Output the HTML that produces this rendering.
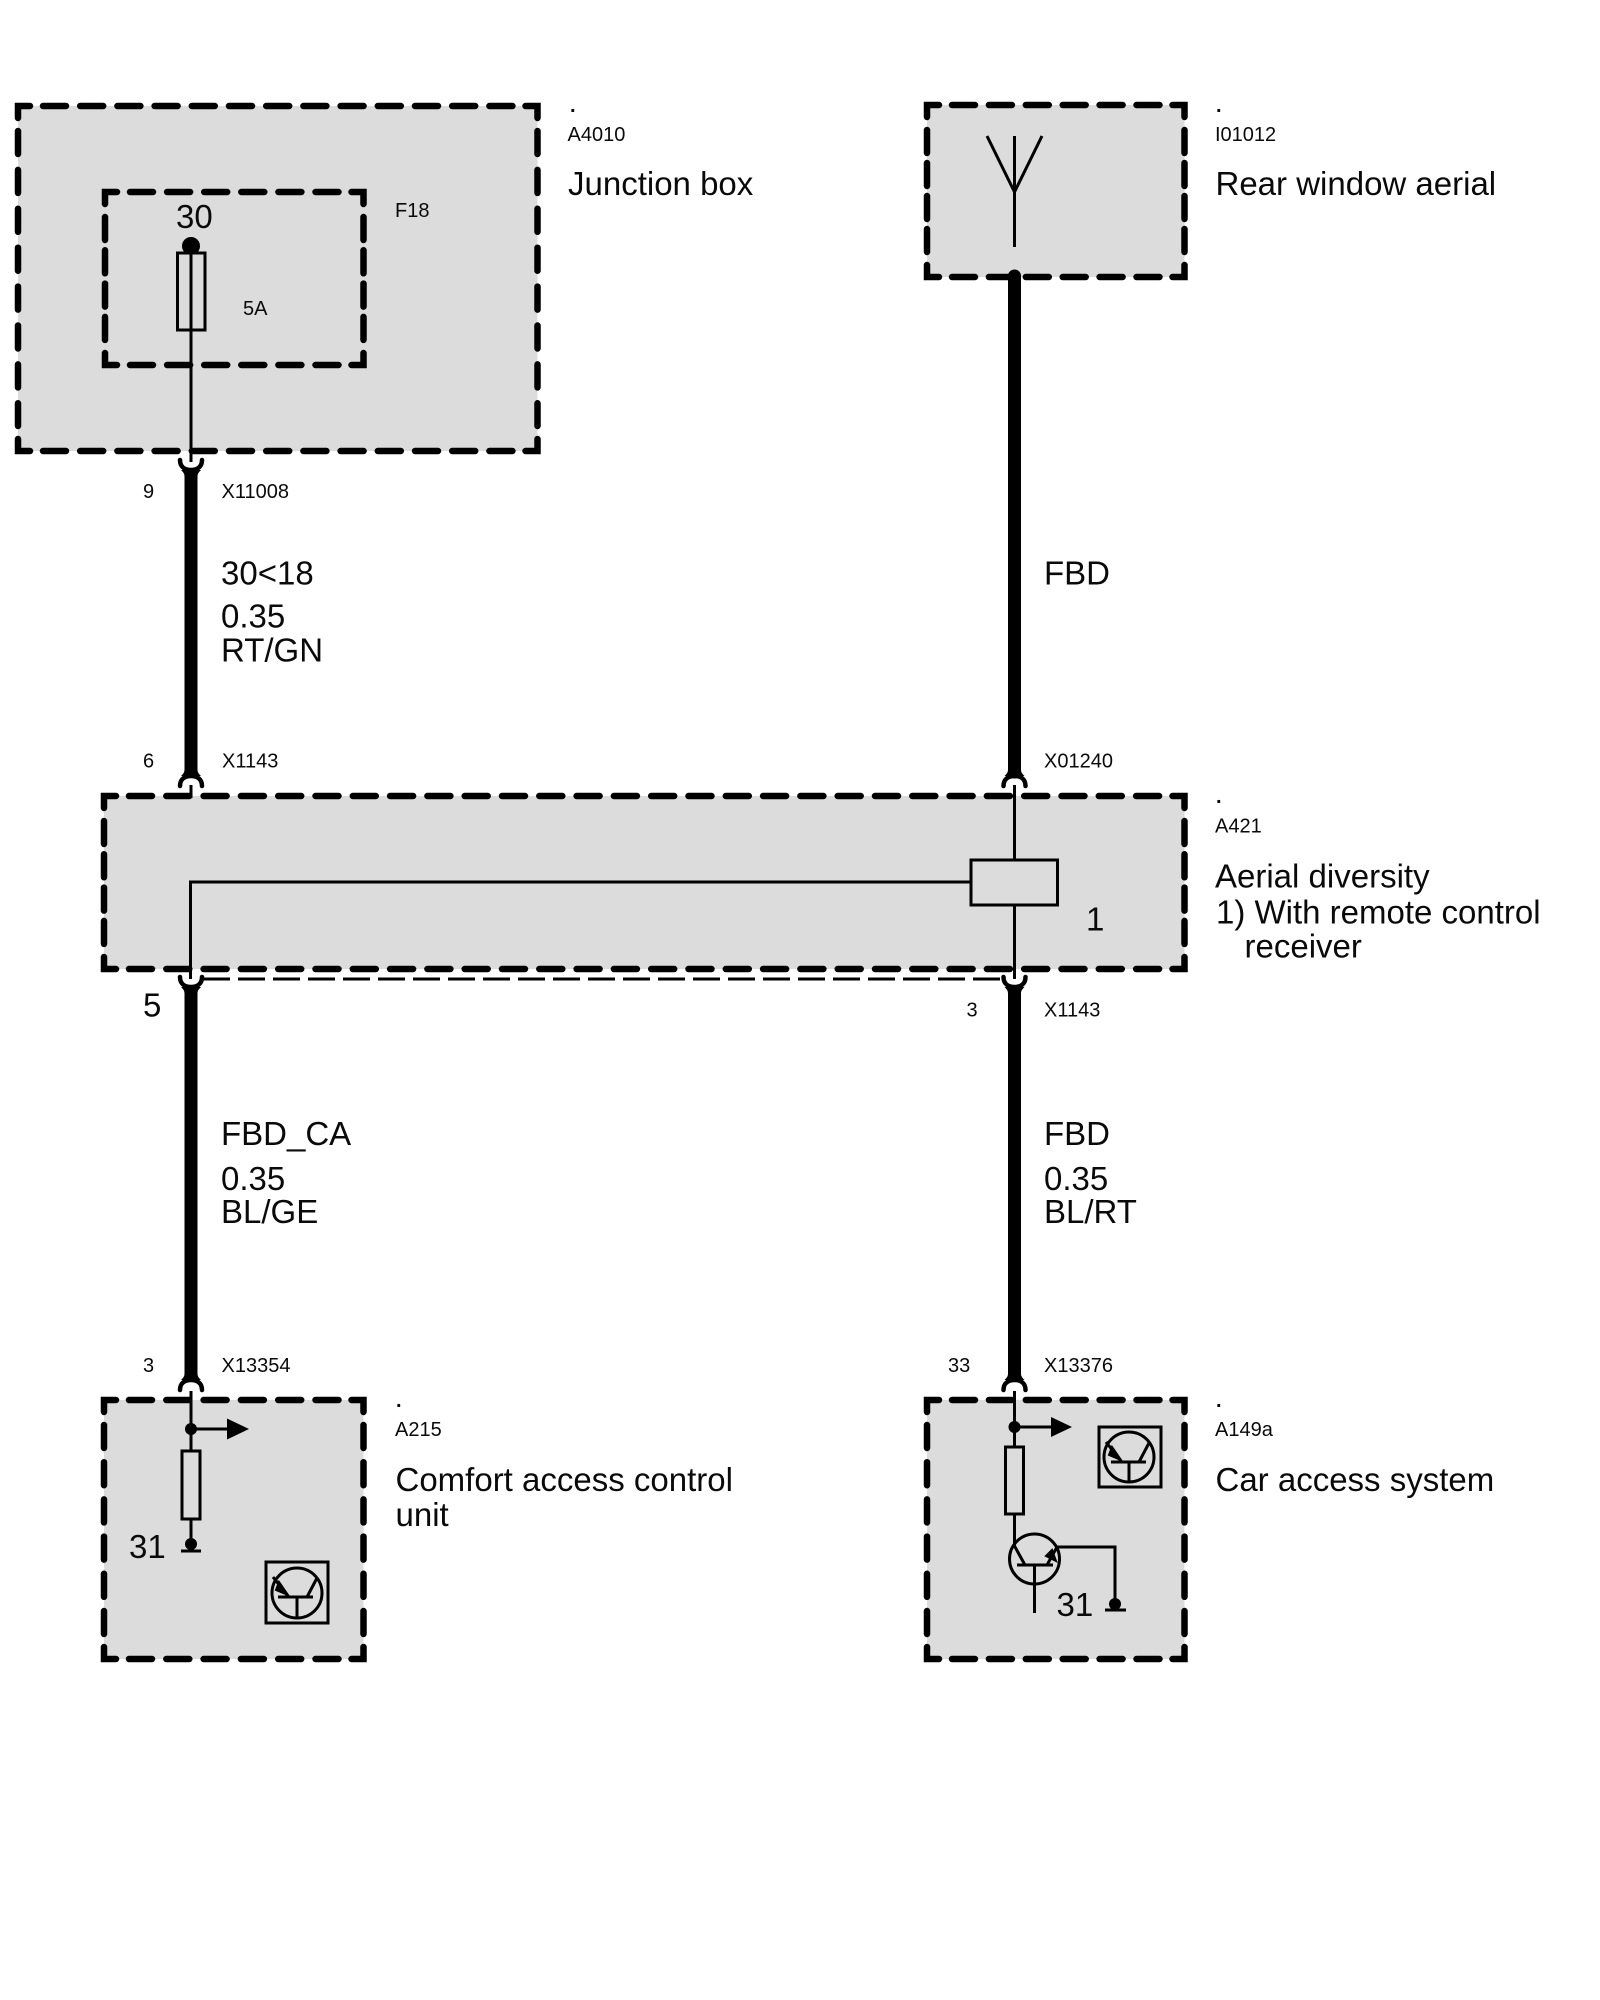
<!DOCTYPE html>
<html>
<head>
<meta charset="utf-8">
<title>Wiring diagram</title>
<style>
html,body{margin:0;padding:0;background:#fff;width:1600px;height:2000px;overflow:hidden}
svg{display:block}
text{font-family:"Liberation Sans",Arial,sans-serif;fill:#0a0a0a}
.s{font-size:20px}
.l{font-size:33px}
.p{font-size:20px;font-weight:bold}
.c{fill:none;stroke:#000;stroke-width:6.500;stroke-linecap:round;stroke-linejoin:miter}
.d{fill:none;stroke:#000;stroke-width:6.500;stroke-linecap:round}
.t{fill:none;stroke:#000;stroke-width:3}
.k{fill:none;stroke:#000;stroke-width:13}
.f{fill:none;stroke:#000;stroke-width:4.500;stroke-linecap:round}
.b{fill:#dcdcdc}
</style>
</head>
<body>
<svg width="1600" height="2000" viewBox="0 0 1600 2000" xmlns="http://www.w3.org/2000/svg">
<defs>
<g id="fk">
<path d="M-6.500 -9C-6.500 -6 -7 -5 -10 -2L10 -2C7 -5 6.500 -6 6.500 -9Z" fill="#000"/>
<path class="f" d="M-11 8C-11 1 -6 -2 0 -2C6 -2 11 1 11 8"/>
</g>
</defs>
<rect width="1600" height="2000" fill="#fff"/>

<!-- A4010 -->
<rect class="b" x="18" y="106" width="519.500" height="345"/>
<path class="c" d="M18 118V106H30M525.500 106H537.500V118M537.500 439V451H525.500M30 451H18V439"/>
<line class="d" x1="43" y1="106" x2="512.500" y2="106" stroke-dasharray="23 14.200"/>
<line class="d" x1="43" y1="451" x2="512.500" y2="451" stroke-dasharray="23 14.200"/>
<line class="d" x1="18" y1="131" x2="18" y2="426" stroke-dasharray="23 15.900"/>
<line class="d" x1="537.500" y1="131" x2="537.500" y2="426" stroke-dasharray="23 15.900"/>
<!-- F18 -->
<path class="c" d="M105 204V192H117M351.500 192H363.500V204M363.500 353V365H351.500M117 365H105V353"/>
<line class="d" x1="130" y1="192" x2="338.500" y2="192" stroke-dasharray="23 14.100"/>
<line class="d" x1="130" y1="365" x2="338.500" y2="365" stroke-dasharray="23 14.100"/>
<line class="d" x1="105" y1="217" x2="105" y2="340" stroke-dasharray="23 10.300"/>
<line class="d" x1="363.500" y1="217" x2="363.500" y2="340" stroke-dasharray="23 10.300"/>
<circle cx="191" cy="246" r="9" fill="#000"/>
<rect x="177.500" y="253" width="27.500" height="77" fill="#dcdcdc" stroke="#000" stroke-width="3"/>
<use href="#fk" transform="translate(191,468) scale(1,-1)"/>
<line class="t" x1="191" y1="253" x2="191" y2="462"/>
<line class="k" x1="191" y1="470" x2="191" y2="772"/>

<!-- I01012 -->
<rect class="b" x="927" y="105" width="257.500" height="172"/>
<path class="c" d="M927 117V105H939M1172.500 105H1184.500V117M1184.500 265V277H1172.500M939 277H927V265"/>
<line class="d" x1="952" y1="105" x2="1159.500" y2="105" stroke-dasharray="23 13.900"/>
<line class="d" x1="952" y1="277" x2="1159.500" y2="277" stroke-dasharray="23 13.900"/>
<line class="d" x1="927" y1="130" x2="927" y2="252" stroke-dasharray="23 10"/>
<line class="d" x1="1184.500" y1="130" x2="1184.500" y2="252" stroke-dasharray="23 10"/>
<path class="t" d="M987 136L1014.500 192L1042 136M1014.500 136V247"/>
<line x1="1014.500" y1="276" x2="1014.500" y2="772" stroke="#000" stroke-width="13" stroke-linecap="round"/>

<!-- A421 -->
<rect class="b" x="104" y="796" width="1080.500" height="173"/>
<path class="c" d="M104 808V796H116M1172.500 796H1184.500V808M1184.500 957V969H1172.500M116 969H104V957"/>
<line class="d" x1="129" y1="796" x2="1159.500" y2="796" stroke-dasharray="23 14.300"/>
<line class="d" x1="129" y1="969" x2="1159.500" y2="969" stroke-dasharray="23 14.300"/>
<line class="d" x1="104" y1="821" x2="104" y2="944" stroke-dasharray="23 10.300"/>
<line class="d" x1="1184.500" y1="821" x2="1184.500" y2="944" stroke-dasharray="23 10.300"/>
<use href="#fk" transform="translate(191,778)"/>
<use href="#fk" transform="translate(1014.500,778)"/>
<line class="t" x1="191" y1="785" x2="191" y2="798"/>
<line class="t" x1="1014.500" y1="785" x2="1014.500" y2="859"/>
<use href="#fk" transform="translate(191,985) scale(1,-1)"/>
<use href="#fk" transform="translate(1014.500,985) scale(1,-1)"/>
<path class="t" d="M970 882H190.500V979"/>
<rect x="971" y="860" width="86.500" height="45" fill="#dcdcdc" stroke="#000" stroke-width="3"/>
<line class="t" x1="1014.500" y1="905" x2="1014.500" y2="979"/>
<line class="t" x1="203" y1="979" x2="1003" y2="979" stroke-dasharray="27 8"/>
<line class="k" x1="191" y1="989" x2="191" y2="1374"/>
<line class="k" x1="1014.500" y1="989" x2="1014.500" y2="1374"/>

<!-- A215 -->
<rect class="b" x="104" y="1400" width="259.500" height="259"/>
<path class="c" d="M104 1412V1400H116M351.500 1400H363.500V1412M363.500 1647V1659H351.500M116 1659H104V1647"/>
<line class="d" x1="129" y1="1400" x2="338.500" y2="1400" stroke-dasharray="23 14.300"/>
<line class="d" x1="129" y1="1659" x2="338.500" y2="1659" stroke-dasharray="23 14.300"/>
<line class="d" x1="104" y1="1425" x2="104" y2="1634" stroke-dasharray="23 14.200"/>
<line class="d" x1="363.500" y1="1425" x2="363.500" y2="1634" stroke-dasharray="23 14.200"/>
<use href="#fk" transform="translate(191,1382)"/>
<line class="t" x1="191" y1="1391" x2="191" y2="1451"/>
<circle cx="191" cy="1429" r="6" fill="#000"/>
<line class="t" x1="191" y1="1429" x2="228" y2="1429"/>
<path d="M227 1418.500L249 1429L227 1439.500Z" fill="#000"/>
<rect x="182" y="1451" width="18" height="68" fill="#dcdcdc" stroke="#000" stroke-width="3"/>
<line class="t" x1="191" y1="1519" x2="191" y2="1550"/>
<circle cx="191" cy="1544" r="6" fill="#000"/>
<line class="t" x1="181" y1="1551" x2="201" y2="1551"/>
<rect x="266" y="1562" width="62" height="61" fill="none" stroke="#000" stroke-width="3"/>
<circle cx="297" cy="1593" r="25" fill="none" stroke="#000" stroke-width="3"/>
<path class="t" d="M278 1597H313M297 1597V1618M307 1597L317 1578M273 1577L287 1595"/>
<path d="M279 1582L288 1595L276 1590Z" fill="#000" stroke="#000" stroke-width="2"/>

<!-- A149a -->
<rect class="b" x="927" y="1400" width="257.500" height="259"/>
<path class="c" d="M927 1412V1400H939M1172.500 1400H1184.500V1412M1184.500 1647V1659H1172.500M939 1659H927V1647"/>
<line class="d" x1="952" y1="1400" x2="1159.500" y2="1400" stroke-dasharray="23 13.900"/>
<line class="d" x1="952" y1="1659" x2="1159.500" y2="1659" stroke-dasharray="23 13.900"/>
<line class="d" x1="927" y1="1425" x2="927" y2="1634" stroke-dasharray="23 14.200"/>
<line class="d" x1="1184.500" y1="1425" x2="1184.500" y2="1634" stroke-dasharray="23 14.200"/>
<use href="#fk" transform="translate(1014.500,1382)"/>
<line class="t" x1="1014.500" y1="1391" x2="1014.500" y2="1447"/>
<circle cx="1014.500" cy="1427" r="6" fill="#000"/>
<line class="t" x1="1014.500" y1="1427" x2="1052" y2="1427"/>
<path d="M1051 1417L1072 1427L1051 1437Z" fill="#000"/>
<rect x="1005.500" y="1447" width="18" height="67" fill="#dcdcdc" stroke="#000" stroke-width="3"/>
<line class="t" x1="1014.500" y1="1514" x2="1014.500" y2="1547"/>
<circle cx="1034.500" cy="1559" r="25" fill="none" stroke="#000" stroke-width="3"/>
<path class="t" d="M1017 1565H1053M1034.500 1565V1613M1014.500 1546L1025 1565M1047 1565L1057 1547H1115V1610"/>
<path d="M1052 1550L1056 1561L1046 1556Z" fill="#000" stroke="#000" stroke-width="2"/>
<circle cx="1115" cy="1604" r="6" fill="#000"/>
<line class="t" x1="1105" y1="1610" x2="1126" y2="1610"/>
<rect x="1099" y="1427" width="62" height="60" fill="none" stroke="#000" stroke-width="3"/>
<circle cx="1129" cy="1457" r="25" fill="none" stroke="#000" stroke-width="3"/>
<path class="t" d="M1111 1462H1146M1129 1462V1482M1139 1462L1149 1443M1106 1442L1120 1460"/>
<path d="M1112 1447L1121 1460L1109 1455Z" fill="#000" stroke="#000" stroke-width="2"/>

<!-- labels -->
<text class="p" x="570" y="112">.</text>
<text class="s" x="567.500" y="141">A4010</text>
<text class="l" x="568" y="195">Junction box</text>
<text class="l" x="176" y="228">30</text>
<text class="s" x="395" y="217">F18</text>
<text class="s" x="243" y="315">5A</text>

<text class="p" x="1216" y="112">.</text>
<text class="s" x="1215" y="141">I01012</text>
<text class="l" x="1215.500" y="195">Rear window aerial</text>

<text class="s" x="143" y="498">9</text>
<text class="s" x="221.500" y="498">X11008</text>
<text class="l" x="221" y="584.500">30&lt;18</text>
<text class="l" x="221" y="627.500">0.35</text>
<text class="l" x="221" y="661.500">RT/GN</text>
<text class="l" x="1044" y="584.500">FBD</text>

<text class="s" x="143" y="767.500">6</text>
<text class="s" x="222" y="767.500">X1143</text>
<text class="s" x="1044" y="767.500">X01240</text>

<text class="p" x="1216" y="803">.</text>
<text class="s" x="1215" y="832.500">A421</text>
<text class="l" x="1215" y="887.500">Aerial diversity</text>
<text class="l" x="1216" y="923.500">1) With remote control</text>
<text class="l" x="1244.500" y="957.500">receiver</text>
<text class="l" x="1086" y="930.500">1</text>

<text class="l" x="143" y="1016.500">5</text>
<text class="s" x="966.500" y="1016.500">3</text>
<text class="s" x="1044" y="1016.500">X1143</text>

<text class="l" x="221" y="1145">FBD_CA</text>
<text class="l" x="221" y="1190">0.35</text>
<text class="l" x="221" y="1223">BL/GE</text>
<text class="l" x="1044" y="1145">FBD</text>
<text class="l" x="1044" y="1190">0.35</text>
<text class="l" x="1044" y="1223">BL/RT</text>

<text class="s" x="143" y="1372">3</text>
<text class="s" x="221.500" y="1372">X13354</text>
<text class="s" x="948" y="1372">33</text>
<text class="s" x="1044" y="1372">X13376</text>

<text class="p" x="396" y="1407">.</text>
<text class="s" x="395" y="1436">A215</text>
<text class="l" x="395.500" y="1491">Comfort access control</text>
<text class="l" x="395.500" y="1526">unit</text>
<text class="l" x="129" y="1558">31</text>

<text class="p" x="1216" y="1407">.</text>
<text class="s" x="1215" y="1436">A149a</text>
<text class="l" x="1215.500" y="1491">Car access system</text>
<text class="l" x="1056.500" y="1616">31</text>
</svg>
</body>
</html>
